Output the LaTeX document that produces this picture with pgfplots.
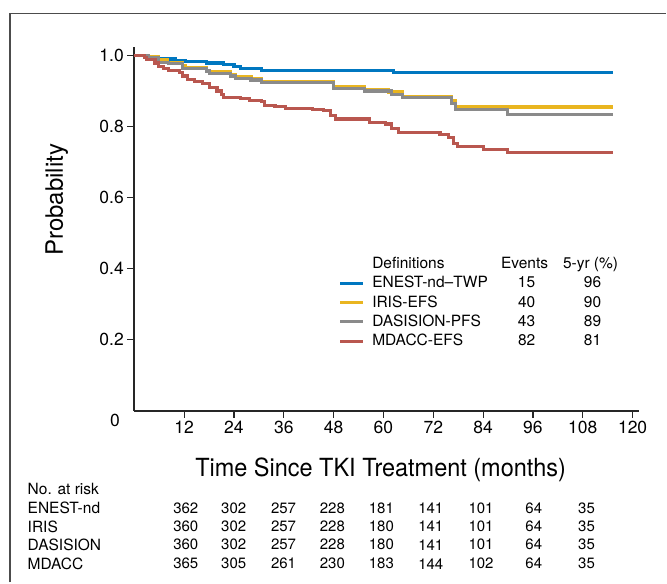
\documentclass[border=0pt]{standalone}
\usepackage{fontspec}
\setmainfont{TeX Gyre Heros}
\newfontfamily\xlab[FakeStretch=0.94]{TeX Gyre Heros}
\usepackage{pgfplots}
\pgfplotsset{compat=1.18}

\definecolor{enest}{HTML}{0077C0}
\definecolor{iris}{HTML}{E9B520}
\definecolor{dasision}{HTML}{8A8A8A}
\definecolor{mdacc}{HTML}{B9574F}

\begin{document}
\begin{tikzpicture}
\begin{axis}[
    x=4.157pt, y=355.8pt,
    xmin=0, xmax=121.6, ymin=0, ymax=1.0225,
    axis x line*=bottom, axis y line*=left,
    axis line style={-, line width=1.8pt, black!85},
    tick align=outside,
    major tick length=7pt,
    tick style={line width=1.2pt, black!85},
    xtick={12,24,...,120},
    ytick={0.2,0.4,0.6,0.8,1.0},
    extra x ticks={0},
    extra x tick style={major tick length=0pt, xticklabel style={xshift=-19.4pt}},
    /pgf/number format/assume math mode=true,
    yticklabel style={/pgf/number format/fixed, /pgf/number format/fixed zerofill, /pgf/number format/precision=1},
    ticklabel style={font=\fontsize{17.5}{20}\selectfont},
    clip=false,
    xlabel={Time Since TKI Treatment (months)},
    ylabel={Probability},
    every axis x label/.style={at={(axis cs:59.32,-0.1838)}, anchor=base, font=\xlab\fontsize{25}{28}\selectfont},
    every axis y label/.style={at={(axis cs:-17.18,0.5939)}, rotate=90, anchor=base, font=\fontsize{24}{28}\selectfont},
    legend cell align=left,
    legend image code/.code={\draw[#1] (0pt,0pt) -- (23pt,0pt);},
    legend style={at={(axis cs:49.2,0.4413)}, anchor=north west, draw=none, fill=none,
        inner sep=0pt, outer sep=0pt, row sep=0pt, column sep=7.5pt,
        font=\fontsize{15.5}{18}\selectfont,
        nodes={inner sep=0pt, text height=14.4pt, text depth=5pt}},
]
% frame and page size
\path (axis cs:-32.33,-0.4826) rectangle (axis cs:128.12,1.156);
\draw[line width=1.3pt, black!70] (axis cs:-29.93,-0.4826) -- (axis cs:-29.93,1.1181) -- (axis cs:128.12,1.1181);

\addlegendimage{empty legend}
\addlegendentry{\makebox[129.5pt][l]{Definitions}\makebox[46pt][c]{Events}\makebox[86pt][c]{5-yr (\%)}}

\addplot[const plot, enest, line width=3.2pt] coordinates {
(0,1) (3.3,0.997) (5.8,0.990) (9.9,0.986) (12.4,0.983) (17.4,0.979)
(21.5,0.975) (24.0,0.968) (25.6,0.963) (30.6,0.957) (62.5,0.953) (115.3,0.953)
};
\addlegendentry{\makebox[129.5pt][l]{ENEST-nd--TWP}\makebox[50pt][c]{15}\makebox[82pt][c]{96}}

\addplot[const plot, iris, line width=3.2pt] coordinates {
(0,1) (3.3,0.997) (5.8,0.988) (7.9,0.980) (11.6,0.971) (12.4,0.965)
(17.4,0.958) (18.2,0.954) (23.2,0.946) (24.4,0.940) (28.1,0.934) (30.6,0.926)
(48.0,0.912) (55.4,0.905) (61.2,0.897) (64.5,0.883) (76.4,0.872) (77.4,0.855) (115.3,0.855)
};
\addlegendentry{\makebox[129.5pt][l]{IRIS-EFS}\makebox[50pt][c]{40}\makebox[82pt][c]{90}}

\addplot[const plot, dasision, line width=3.2pt] coordinates {
(0,1) (3.3,0.995) (5.8,0.981) (8.3,0.978) (11.6,0.963) (17.4,0.956)
(18.2,0.950) (23.2,0.942) (24.4,0.936) (28.1,0.931) (30.6,0.923)
(48.0,0.906) (55.4,0.900) (62.0,0.891) (64.5,0.881) (76.4,0.865) (77.4,0.847)
(89.8,0.834) (115.3,0.834)
};
\addlegendentry{\makebox[129.5pt][l]{DASISION-PFS}\makebox[50pt][c]{43}\makebox[82pt][c]{89}}

\addplot[const plot, mdacc, line width=3.2pt] coordinates {
(0,1) (2.5,0.995) (2.9,0.988) (5.0,0.979) (5.8,0.969) (7.0,0.963) (8.3,0.958)
(10.8,0.953) (11.6,0.942) (12.8,0.932) (14.5,0.926) (16.5,0.920) (18.2,0.909)
(19.9,0.900) (21.1,0.891) (21.5,0.881) (25.6,0.879) (27.7,0.874) (30.6,0.870)
(31.4,0.860) (33.9,0.856) (36.4,0.851) (43.0,0.849) (45.5,0.844) (47.2,0.832)
(48.4,0.821) (56.7,0.812) (60.4,0.807) (62.0,0.795) (63.7,0.784) (73.6,0.777)
(75.7,0.770) (76.9,0.752) (77.8,0.743) (84.0,0.736) (89.8,0.726) (115.3,0.726)
};
\addlegendentry{\makebox[129.5pt][l]{MDACC-EFS}\makebox[50pt][c]{82}\makebox[82pt][c]{81}}

% numbers at risk
\addplot[draw=none, mark=none, forget plot,
    nodes near coords, point meta=explicit symbolic,
    nodes near coords style={anchor=center, inner sep=0pt, font=\fontsize{15}{17}\selectfont}]
    table[meta=n] {
x y n
12.40 -0.2735 362
23.94 -0.2735 302
35.95 -0.2735 257
47.70 -0.2735 228
59.50 -0.2735 181
71.40 -0.2735 141
83.50 -0.2735 101
96.20 -0.2735 64
108.9 -0.2735 35
12.40 -0.3252 360
23.94 -0.3252 302
35.95 -0.3252 257
47.70 -0.3252 228
59.50 -0.3252 180
71.40 -0.3252 141
83.50 -0.3252 101
96.20 -0.3252 64
108.9 -0.3252 35
12.40 -0.3766 360
23.94 -0.3766 302
35.95 -0.3766 257
47.70 -0.3766 228
59.50 -0.3766 180
71.40 -0.3766 141
83.50 -0.3766 101
96.20 -0.3766 64
108.9 -0.3766 35
12.40 -0.4300 365
23.94 -0.4300 305
35.95 -0.4300 261
47.70 -0.4300 230
59.50 -0.4300 183
71.40 -0.4300 144
83.50 -0.4300 102
96.20 -0.4300 64
108.9 -0.4300 35
};

\begin{scope}[every node/.style={anchor=west, inner sep=0pt, font=\fontsize{15.5}{17}\selectfont}]
\node at (axis cs:-25.7,-0.2200) {No. at risk};
\node at (axis cs:-25.7,-0.2735) {ENEST-nd};
\node at (axis cs:-25.7,-0.3252) {IRIS};
\node at (axis cs:-25.7,-0.3766) {DASISION};
\node at (axis cs:-25.7,-0.4300) {MDACC};
\end{scope}
\end{axis}
\end{tikzpicture}
\end{document}
